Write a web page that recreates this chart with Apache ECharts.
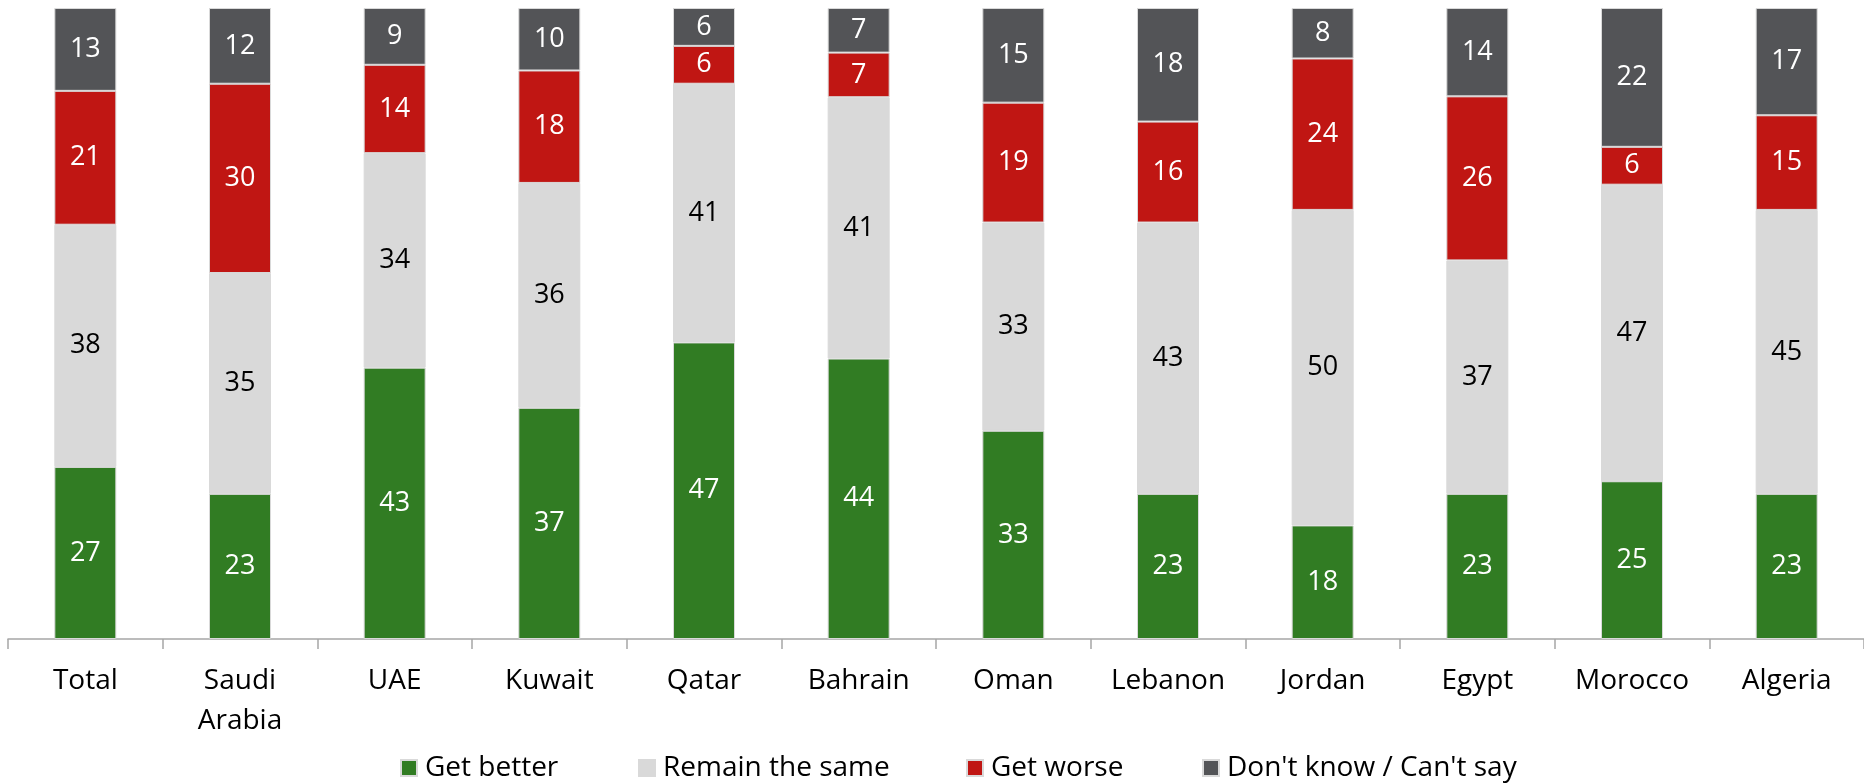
<!DOCTYPE html>
<html>
<head>
<meta charset="utf-8">
<style>
  html, body { margin: 0; padding: 0; background: #fff; }
  #chart { width: 1864px; height: 783px; }
</style>
<script src="https://cdn.jsdelivr.net/npm/echarts@6/dist/echarts.min.js"></script>
</head>
<body>
<div id="chart"></div>
<script>
// Survey answers by country (percent of respondents)
const categories = ['Total', 'Saudi\nArabia', 'UAE', 'Kuwait', 'Qatar', 'Bahrain', 'Oman', 'Lebanon', 'Jordan', 'Egypt', 'Morocco', 'Algeria'];
const seriesNames = ['Get better', 'Remain the same', 'Get worse', "Don't know / Can't say"];
const getBetter   = [27, 23, 43, 37, 47, 44, 33, 23, 18, 23, 25, 23];
const remainSame  = [38, 35, 34, 36, 41, 41, 33, 43, 50, 37, 47, 45];
const getWorse    = [21, 30, 14, 18, 6, 7, 19, 16, 24, 26, 6, 15];
const dontKnow    = [13, 12, 9, 10, 6, 7, 15, 18, 8, 14, 22, 17];

const colors = ['#317c23', '#d9d9d9', '#c01613', '#535457'];
const labelColors = ['#ffffff', '#000000', '#ffffff', '#ffffff'];
const FONT = '"Open Sans", sans-serif';

// 100% stacked: each column is scaled to its own total
const raw = [getBetter, remainSame, getWorse, dontKnow];
const totals = categories.map((_, i) => raw.reduce((s, arr) => s + arr[i], 0));

const series = raw.map((arr, k) => ({
  name: seriesNames[k],
  type: 'bar',
  stack: 'share',
  barWidth: 62,
  itemStyle: { color: colors[k], borderColor: '#d9d9d9', borderWidth: 1 },
  label: {
    show: true,
    position: 'inside',
    color: labelColors[k],
    fontFamily: FONT,
    fontSize: 27,
    formatter: p => String(arr[p.dataIndex])
  },
  data: arr.map((v, i) => v / totals[i] * 100)
}));

// one legend block per series so each key sits at its own spot
const legendLefts = [400, 638, 966, 1202];
const legends = seriesNames.map((name, k) => ({
  left: legendLefts[k],
  top: 754,
  padding: 0,
  itemWidth: 16,
  itemHeight: 16,
  icon: 'rect',
  selectedMode: false,
  textStyle: { fontFamily: FONT, fontSize: 28, color: '#000', padding: [0, 0, 0, 3] },
  data: [name]
}));

const chart = echarts.init(document.getElementById('chart'));
chart.setOption({
  animation: false,
  color: colors,
  grid: { left: 8, top: 8, width: 1866, bottom: 144, containLabel: false },
  xAxis: {
    type: 'category',
    data: categories,
    axisLine: { lineStyle: { color: '#a6a6a6', width: 1.5 } },
    axisTick: { show: true, length: 10, lineStyle: { color: '#a6a6a6', width: 1.5 } },
    axisLabel: {
      color: '#000',
      fontFamily: FONT,
      fontSize: 28,
      lineHeight: 40,
      margin: 22,
      interval: 0
    }
  },
  yAxis: {
    type: 'value',
    min: 0,
    max: 100,
    show: false,
    splitLine: { show: false }
  },
  legend: legends,
  series: series
});
</script>
</body>
</html>
